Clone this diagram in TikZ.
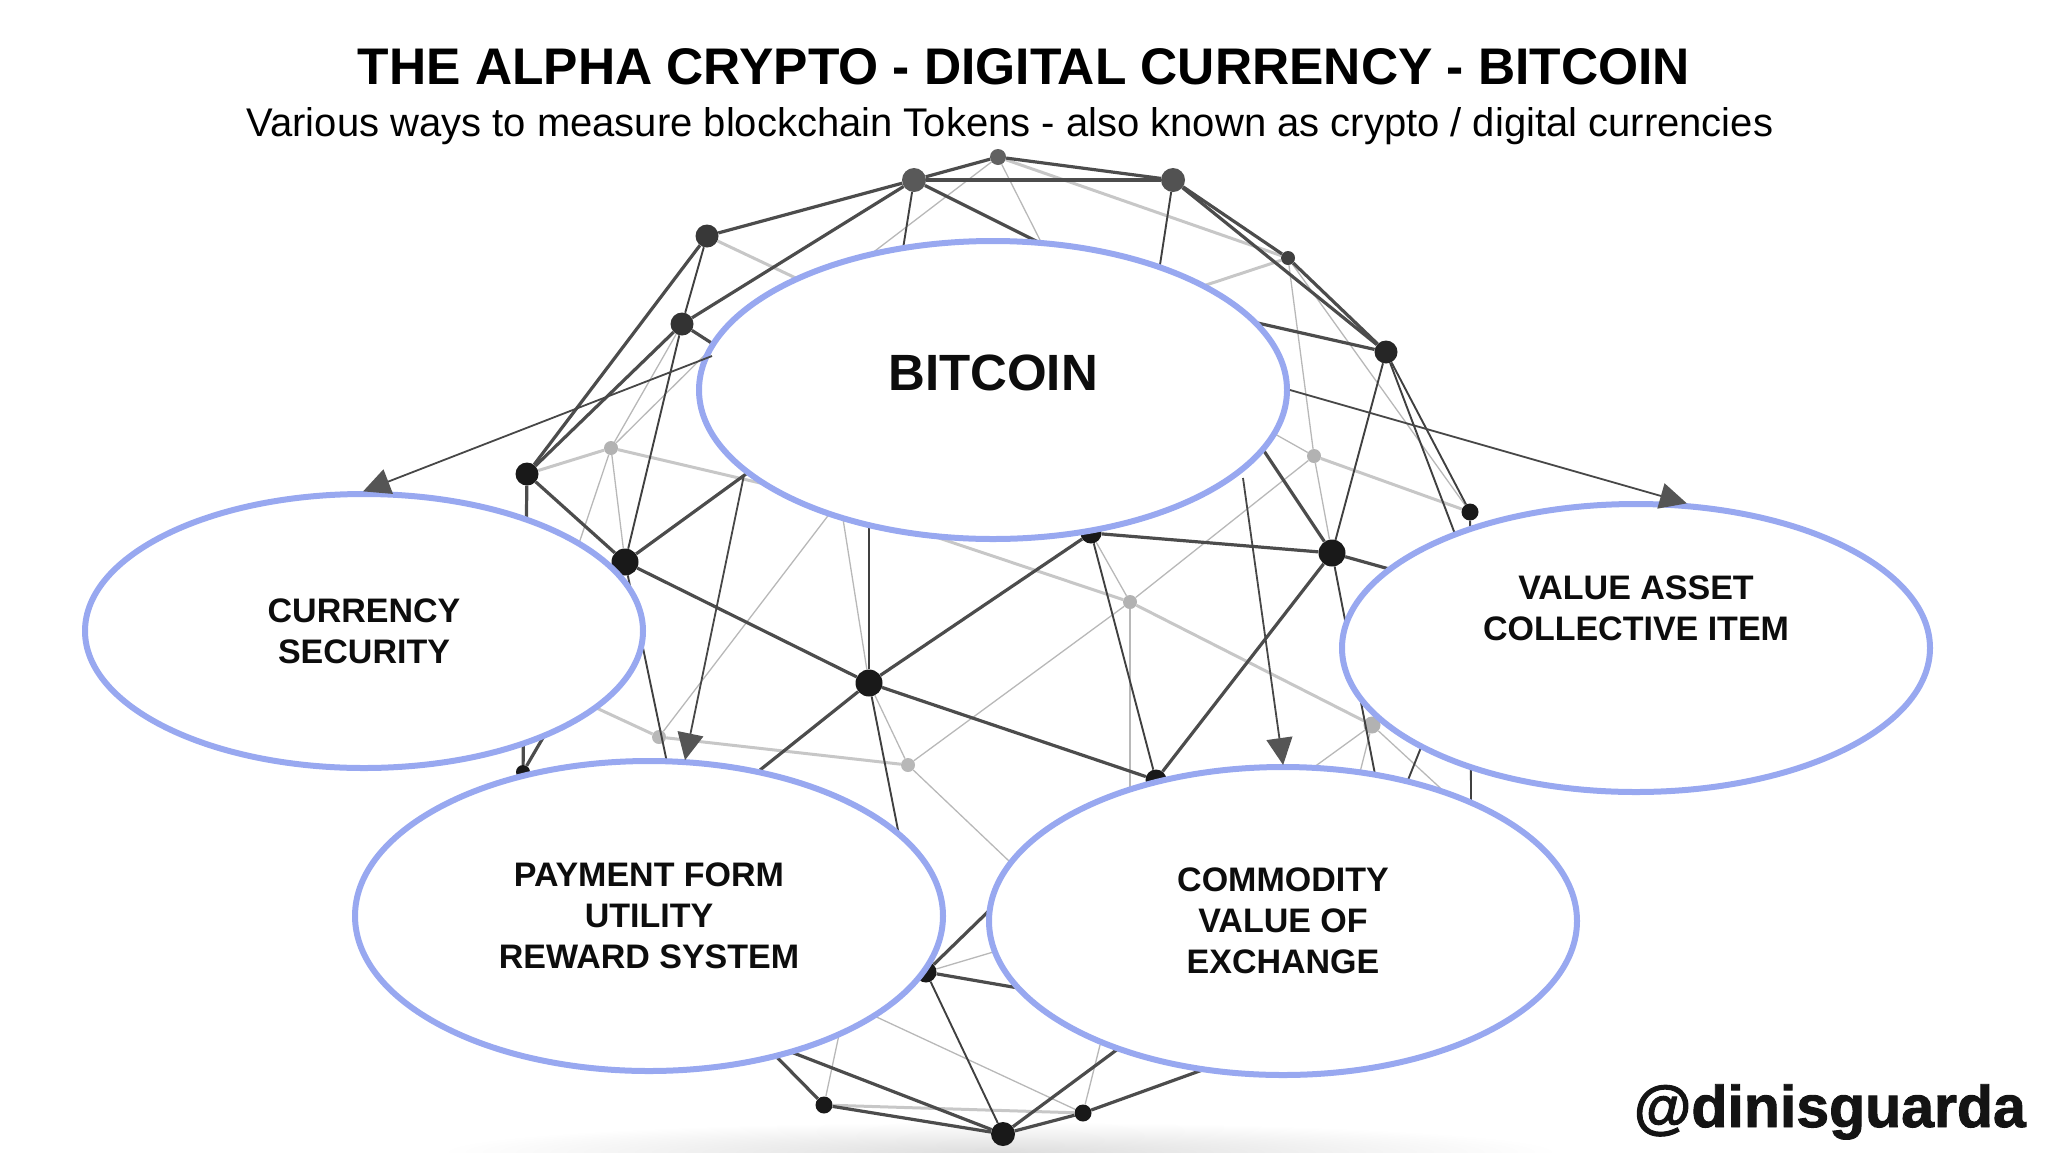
\documentclass[tikz,border=0pt]{standalone}
\usepackage{fontspec}
\setmainfont{Liberation Sans}
\newfontfamily\heavyfont{Liberation Sans}[BoldFeatures={FakeBold=1.6}]
\usetikzlibrary{arrows.meta,shapes.geometric}
\definecolor{ringblue}{HTML}{98A8F0}
\definecolor{arrowgrey}{HTML}{555555}
\tikzset{
  hub/.style={circle,fill=#1,draw=none,minimum size=21pt,inner sep=0pt},
  hubs/.style={circle,fill=#1,draw=none,minimum size=14pt,inner sep=0pt},
  thick edge/.style={draw=black!70,line width=3.2pt},
  thin edge/.style={draw=black!75,line width=1.9pt},
  pale edge/.style={draw=black!22,line width=3pt},
  pale thin/.style={draw=black!28,line width=1.3pt},
  bubble/.style={ellipse,draw=ringblue,line width=6pt,fill=white,inner sep=0pt},
  caption/.style={align=center,font=\bfseries\fontsize{34}{41}\selectfont,text=black!95},
  pointer/.style={draw=black!72,line width=1.8pt,-{Triangle[length=27pt,width=26pt,color=arrowgrey]},shorten >=-1pt}
}
\newcommand{\hid}[2]{\coordinate (#1) at (#2);}
\begin{document}
\begin{tikzpicture}[x=1pt,y=-1pt]
\useasboundingbox (0,0) rectangle (2048,1152);
\shade[inner color=black!13,outer color=white,draw=none] (1000,1152) ellipse [x radius=560,y radius=30];
% visible graph nodes
\node[hubs=black!62,minimum size=16pt] (a) at (998,157) {};
\node[hub=black!65,minimum size=24pt] (b) at (914,180) {};
\node[hub=black!68,minimum size=24pt] (c) at (1173,180) {};
\node[hub=black!78,minimum size=23pt] (d) at (707,236) {};
\node[hub=black!80,minimum size=23pt] (e) at (682,324) {};
\node[hubs=black!75] (f) at (1288,258) {};
\node[hub=black!85,minimum size=23pt] (g) at (1386,352) {};
\node[hub=black!90,minimum size=23pt] (h) at (527,474) {};
\node[hubs=black!30] (i) at (611,448) {};
\node[hubs=black!30] (j) at (1314,456) {};
\node[hubs=black!90,minimum size=17pt] (k) at (1470,512) {};
\node[hub=black!90,minimum size=27pt] (l) at (625,562) {};
\node[hub=black!90,minimum size=27pt] (m) at (1332,553) {};
\node[hub=black!90] (n) at (1091,533) {};
\node[hubs=black!30] (o) at (1130,602) {};
\node[hub=black!90,minimum size=27pt] (p) at (869,683) {};
\node[hubs=black!28] (q) at (908,765) {};
\node[hubs=black!28] (r) at (659,737) {};
\node[hubs=black!30,minimum size=17pt] (s) at (1372,725) {};
\node[hub=black!90] (t) at (1156,780) {};
\node[hub=black!90] (u) at (926,972) {};
\node[hubs=black!90,minimum size=17pt] (v) at (824,1105) {};
\node[hub=black!90,minimum size=24pt] (w) at (1003,1134) {};
\node[hubs=black!90,minimum size=17pt] (x) at (1083,1113) {};
\node[hubs=black!90] (y) at (523,772) {};
% hidden graph points behind the bubbles
\hid{c1}{869,500}\hid{c2}{720,340}\hid{c3}{1250,430}\hid{c4}{800,280}
\hid{c5}{1100,273}\hid{c6}{1200,310}\hid{c7}{1380,800}\hid{c8}{1450,797}
\hid{c9}{678,815}\hid{c10}{760,770}\hid{c11}{1000,900}\hid{c12}{760,1040}
\hid{c13}{1100,1045}\hid{c14}{1358,780}\hid{c15}{840,1000}\hid{c16}{1230,1060}
\hid{c17}{1000,950}\hid{c18}{1050,900}\hid{c19}{1030,990}\hid{c20}{1471,800}
\hid{c21}{1400,800}\hid{c22}{790,490}\hid{c23}{840,500}\hid{c24}{1150,330}
\hid{c25}{900,525}\hid{c26}{850,270}\hid{c27}{1040,240}\hid{c28}{890,330}
\hid{c29}{800,400}\hid{c30}{1100,320}\hid{c31}{560,600}\hid{c32}{790,442}
\hid{c33}{1130,800}\hid{c34}{590,705}\hid{c35}{1250,420}\hid{c36}{1310,770}
\hid{c37}{1440,700}\hid{c38}{1480,600}\hid{c39}{1500,600}\hid{c40}{1130,1040}
\hid{c41}{840,1030}\hid{c42}{600,640}\hid{c43}{840,500}
% pale edges
\begin{scope}[every path/.style={pale edge}]
\draw (d)--(c4); \draw (a)--(f); \draw (f)--(c30);
\draw (h)--(i); \draw (i)--(c22); \draw (j)--(k);
\draw (o)--(c25); \draw (o)--(s); \draw (r)--(q); \draw (r)--(c34); \draw (v)--(x);
\end{scope}
\begin{scope}[every path/.style={pale thin}]
\draw (a)--(c26); \draw (a)--(c27); \draw (e)--(i); \draw (i)--(l); \draw (i)--(c31);
\draw (i)--(c2); \draw (f)--(j); \draw (f)--(k); \draw (j)--(m); \draw (j)--(o);
\draw (j)--(c35); \draw (o)--(n); \draw (o)--(c33); \draw (o)--(q);
\draw (q)--(p); \draw (q)--(c18); \draw (r)--(c23); \draw (p)--(c43);
\draw (s)--(c8); \draw (s)--(c14); \draw (s)--(c36);
\draw (u)--(c17); \draw (c41)--(v); \draw (c13)--(x); \draw (c15)--(x);
\end{scope}
% dark edges
\begin{scope}[every path/.style={thick edge}]
\draw (d)--(b); \draw (b)--(a); \draw (a)--(c); \draw (b)--(c);
\draw (e)--(b); \draw (b)--(c5); \draw (e)--(h); \draw (d)--(h);
\draw (c)--(g); \draw (c)--(f); \draw (f)--(g); \draw (e)--(c29);
\draw (g)--(c6); \draw (h)--(l); \draw (l)--(p); \draw (l)--(c32);
\draw (m)--(n); \draw (m)--(c3); \draw (p)--(t); \draw (p)--(n); \draw (p)--(c10);
\draw (m)--(t); \draw (v)--(w); \draw (x)--(w); \draw (c12)--(w); \draw (c16)--(x);
\draw (c40)--(w); \draw (u)--(c11); \draw (u)--(c19); \draw (v)--(c12); \draw (h)--(y); \draw (m)--(c39);
\draw (y)--(c42);
\end{scope}
\begin{scope}[every path/.style={thin edge}]
\draw (b)--(c28); \draw (c)--(c24); \draw (d)--(e); \draw (e)--(l);
\draw (g)--(m); \draw (g)--(k); \draw (g)--(c38); \draw (m)--(c7);
\draw (p)--(c1); \draw (n)--(t); \draw (p)--(u); \draw (l)--(c9); \draw (u)--(w);
\draw (k)--(c20); \draw (c21)--(c37);
\end{scope}
\node[bubble,minimum width=588pt,minimum height=298pt] (btc) at (993,390) {};
\node[bubble,minimum width=558pt,minimum height=274pt] (cur) at (364,631) {};
\node[bubble,minimum width=588pt,minimum height=288pt] (val) at (1636,648) {};
\node[bubble,minimum width=588pt,minimum height=310pt] (pay) at (649,916) {};
\node[bubble,minimum width=588pt,minimum height=308pt] (com) at (1283,921) {};
\node[caption,font=\bfseries\fontsize{51}{60}\selectfont] (btclabel) at (993,373) {BITCOIN};
\node[caption] (curlabel) at (364,631.5) {CURRENCY\\SECURITY};
\node[caption] (vallabel) at (1636,608) {VALUE ASSET\\COLLECTIVE ITEM};
\node[caption] (paylabel) at (649,916) {PAYMENT FORM\\UTILITY\\REWARD SYSTEM};
\node[caption] (comlabel) at (1283,921) {COMMODITY\\VALUE OF\\EXCHANGE};
\node[font=\bfseries\fontsize{51.5}{60}\selectfont,anchor=base] (title) at (1024,84) {THE ALPHA CRYPTO - DIGITAL CURRENCY - BITCOIN};
\node[font=\fontsize{40}{50}\selectfont,anchor=base] (sub) at (1010,136) {Various ways to measure blockchain Tokens - also known as crypto / digital currencies};
\node[font=\heavyfont\bfseries\fontsize{59}{60}\selectfont,anchor=base east,inner xsep=0pt,text=black!92] (tag) at (2026,1127) {@dinisguarda};
\coordinate (s1) at (712,356);
\coordinate (s3) at (744,475);
\coordinate (s4) at (1243,478);
\draw[pointer] (s1)--(cur.90);
\draw[pointer] (btc.east)--(val.71);
\draw[pointer] (s3)--(pay.77);
\draw[pointer] (s4)--(com.north);
\end{tikzpicture}
\end{document}
